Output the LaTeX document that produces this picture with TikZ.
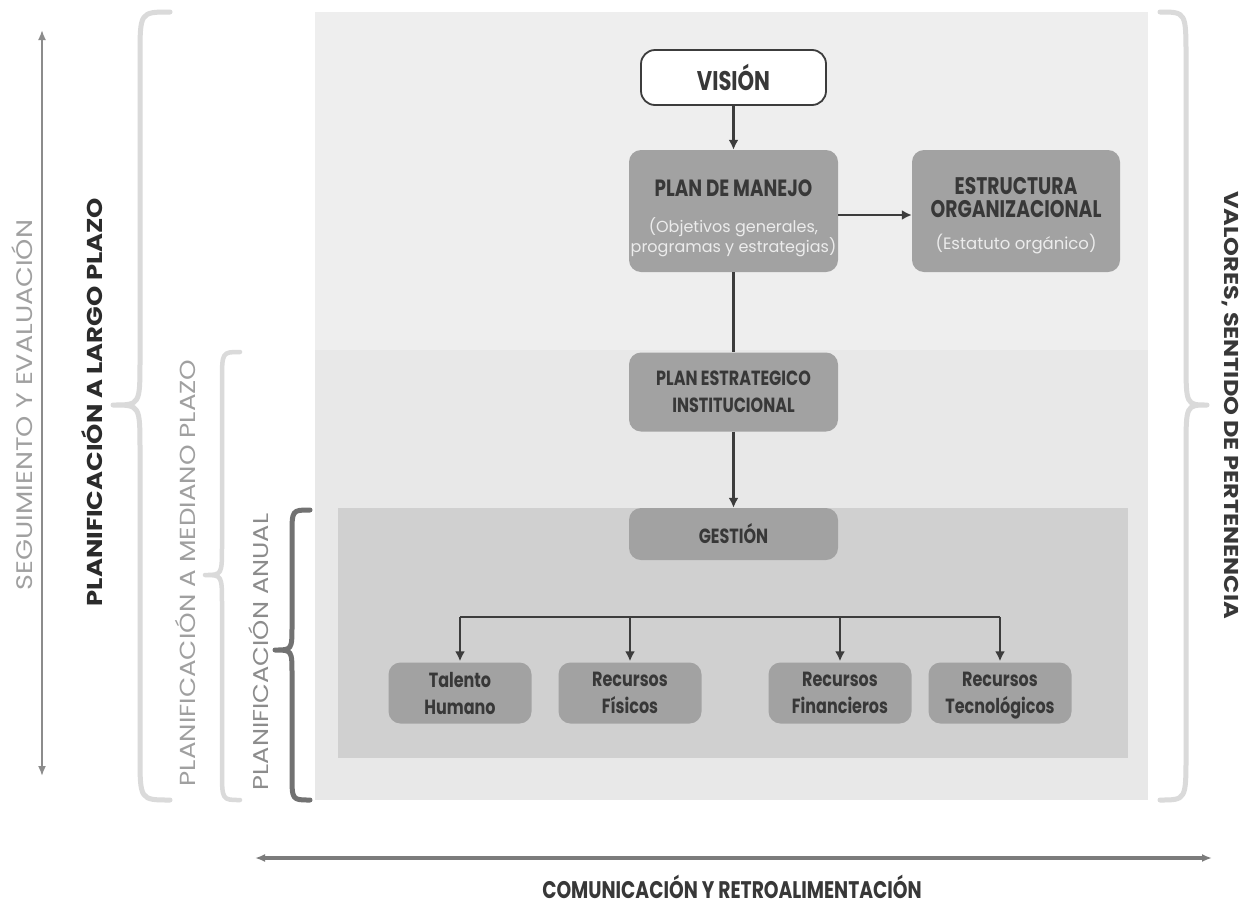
\documentclass[tikz,border=0pt]{standalone}
\usepackage{fontspec}
\setmainfont{Poppins}[FakeStretch=0.78]
\newfontfamily\sidefont{Poppins}[FakeStretch=1.2]
\newfontfamily\subfont{Poppins}
\usetikzlibrary{arrows.meta}

\definecolor{panelTop}{HTML}{EEEEEE}
\definecolor{panelLow}{HTML}{E8E8E8}
\definecolor{panelIn}{HTML}{D0D0D0}
\definecolor{boxFill}{HTML}{A2A2A2}
\definecolor{boxText}{HTML}{383838}
\definecolor{subText}{HTML}{ECECEC}
\definecolor{lineDark}{HTML}{3C3C3C}
\definecolor{braceLight}{HTML}{DADADA}
\definecolor{braceDark}{HTML}{727272}
\definecolor{sideGray}{HTML}{A0A0A0}
\definecolor{sideMid}{HTML}{8C8C8C}
\definecolor{sideDark}{HTML}{2B2B2B}
\definecolor{axisGray}{HTML}{7C7C7C}

\begin{document}
\begin{tikzpicture}[x=1pt,y=-1pt,
  box/.style={rounded corners=12pt, fill=boxFill, text=boxText, align=center,
    inner sep=0pt},
  conn/.style={draw=lineDark, line width=2.4pt},
  arr/.style={conn, -{Latex[length=10pt,width=10pt]}},
  bracepath/.style={line width=5pt, line cap=round, line join=round},
  sidelabel/.style={inner sep=0pt},
  bothtips/.style={{Latex[length=10pt,width=8pt]}-{Latex[length=10pt,width=8pt]}}
]
\useasboundingbox (0,0) rectangle (1255,908);
\fill[white] (0,0) rectangle (1255,908);

% background panels
\fill[panelTop] (315,12) rectangle (1148,350);
\fill[panelLow] (315,350) rectangle (1148,800);
\fill[panelIn] (338,508) rectangle (1128,758);

% boxes
\node[draw=lineDark, line width=1.8pt, fill=white, rounded corners=14pt, text=boxText,
  font=\bfseries\fontsize{27}{30}\selectfont, minimum width=185pt, minimum height=55pt,
  inner sep=0pt] (vis) at (733.5,77.5) {VISIÓN};

\node[box, minimum width=209pt, minimum height=122pt,
  font=\bfseries\fontsize{23.5}{20}\selectfont] (pm) at (733.5,211)
  {\rule{0pt}{31pt}PLAN DE MANEJO\\[16pt]
   {\subfont\mdseries\fontsize{16}{20}\selectfont\color{subText}(Objetivos generales,}\\
   {\subfont\mdseries\fontsize{16}{20}\selectfont\color{subText}programas y estrategias)}};

\node[box, minimum width=208pt, minimum height=122pt,
  font=\bfseries\fontsize{24}{23}\selectfont] (es) at (1016,211)
  {\rule{0pt}{26pt}ESTRUCTURA\\ORGANIZACIONAL\\[9pt]
   {\subfont\mdseries\fontsize{16.5}{20}\selectfont\color{subText}(Estatuto orgánico)}};

\node[box, minimum width=209pt, minimum height=79pt, font=\bfseries\fontsize{20.5}{27}\selectfont]
  (pe) at (733.5,392) {PLAN ESTRATEGICO\\INSTITUCIONAL};

\node[box, minimum width=209pt, minimum height=52pt, font=\bfseries\fontsize{20.5}{24}\selectfont]
  (ge) at (733.5,534) {GESTIÓN};

\tikzset{res/.style={box, minimum width=143pt, minimum height=61pt,
  font=\bfseries\fontsize{20.5}{27}\selectfont}}
\node[res] (th) at (460,693) {Talento\\Humano};
\node[res] (rf) at (630,693) {Recursos\\Físicos};
\node[res] (rfi) at (840,693) {Recursos\\Financieros};
\node[res] (rt) at (1000,693) {Recursos\\\smash{Tecnológicos}};

% connectors
\draw[arr] (vis) -- (pm);
\draw[arr] (pm.east |- 0,215) -- (es.west |- 0,215);
\draw[conn] (pm) -- (pe);
\draw[arr] (pe) -- (ge);

\coordinate (bus) at (733,617);
\draw[conn] (th.north |- bus) -- (rt.north |- bus);
\foreach \r in {th,rf,rfi,rt}
  \draw[arr, shorten >=1pt] (\r.north |- bus) -- (\r.north);

% braces
\draw[bracepath, draw=braceLight]
  (170,12) .. controls (140,12) .. (140,57) -- (140,360)
  .. controls (140,405) .. (113,405) .. controls (140,405) .. (140,450)
  -- (140,755) .. controls (140,800) .. (170,800);
\draw[bracepath, draw=braceLight, line width=4.5pt]
  (240,352) .. controls (222,352) .. (222,382) -- (222,545)
  .. controls (222,575) .. (205,575) .. controls (222,575) .. (222,605)
  -- (222,770) .. controls (222,800) .. (240,800);
\draw[bracepath, draw=braceDark]
  (310,510) .. controls (292,510) .. (292,535) -- (292,625)
  .. controls (292,650) .. (275,650) .. controls (292,650) .. (292,675)
  -- (292,775) .. controls (292,800) .. (310,800);
\draw[bracepath, draw=braceLight]
  (1160,12) .. controls (1186,12) .. (1186,57) -- (1186,360)
  .. controls (1186,405) .. (1207,405) .. controls (1186,405) .. (1186,450)
  -- (1186,755) .. controls (1186,800) .. (1160,800);

% side axes
\coordinate (seTop) at (42,30);
\coordinate (seBot) at (42,776);
\draw[bothtips, draw=sideMid, fill=sideMid, line width=1.8pt] (seTop) -- (seBot);
\coordinate (coL) at (255,858);
\coordinate (coR) at (1212,858);
\draw[bothtips, draw=axisGray, fill=axisGray, line width=3.5pt] (coL) -- (coR);

% side labels
\node[sidelabel, rotate=90, text=sideGray, font=\sidefont\fontsize{22.5}{24}\selectfont]
  (seg) at (22,405) {SEGUIMIENTO Y EVALUACIÓN};
\node[sidelabel, rotate=90, text=sideDark, font=\sidefont\bfseries\fontsize{21.5}{24}\selectfont]
  (lp) at (92,402) {PLANIFICACIÓN A LARGO PLAZO};
\node[sidelabel, rotate=90, text=sideGray, font=\sidefont\fontsize{21.8}{24}\selectfont]
  (mp) at (185,573) {PLANIFICACIÓN A MEDIANO PLAZO};
\node[sidelabel, rotate=90, text=sideMid, font=\sidefont\fontsize{21.4}{24}\selectfont]
  (an) at (259,652) {PLANIFICACIÓN ANUAL};
\node[sidelabel, rotate=-90, text=boxText, font=\sidefont\bfseries\fontsize{20}{24}\selectfont]
  (val) at (1230,405) {VALORES, SENTIDO DE PERTENENCIA};
\node[inner sep=0pt, text depth=0pt, anchor=base, text=boxText,
  font=\bfseries\fontsize{24}{28}\selectfont]
  (com) at (732,898) {COMUNICACIÓN Y RETROALIMENTACIÓN};
\end{tikzpicture}
\end{document}
